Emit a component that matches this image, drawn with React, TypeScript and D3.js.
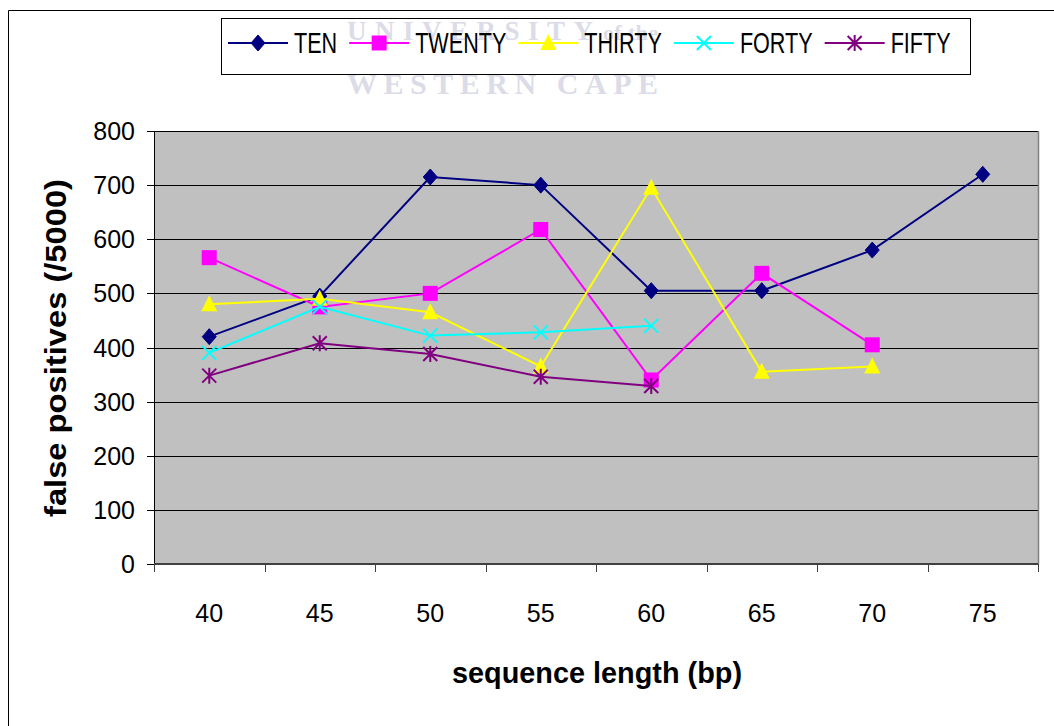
import React, { useEffect, useRef } from "react";
import * as d3 from "d3";

const categories = ["40", "45", "50", "55", "60", "65", "70", "75"];
const seriesNames = ["TEN", "TWENTY", "THIRTY", "FORTY", "FIFTY"];
const seriesColors = ["#000080", "#FF00FF", "#FFFF00", "#00FFFF", "#800080"];
const seriesMarkers = ["diamond", "square", "triangle", "x", "asterisk"];
const tenValues = [420, 495, 715, 700, 505, 505, 580, 720];
const twentyValues = [566, 475, 500, 618, 340, 537, 405];
const thirtyValues = [480, 490, 465, 365, 695, 355, 365];
const fortyValues = [390, 475, 422, 428, 440];
const fiftyValues = [348, 408, 388, 346, 329];
const yTicks = [0, 100, 200, 300, 400, 500, 600, 700, 800];
const xTitle = "sequence length (bp)";
const yTitle = "false positives (/5000)";
const watermarkTop = "UNIVERSITY";
const watermarkTopSmall = "of the";
const watermarkBottom = "WESTERN CAPE";

const allSeries = [tenValues, twentyValues, thirtyValues, fortyValues, fiftyValues];

export default function App() {
  const ref = useRef<SVGSVGElement>(null);

  useEffect(() => {
    const svg = d3.select(ref.current);
    svg.selectAll("*").remove();
    const W = 1054, H = 726;
    const m = { left: 154, top: 131, right: 1038, bottom: 564 };
    const font = "'Liberation Sans', Arial, sans-serif";

    // outer frame (only top & left visible)
    svg.append("rect").attr("x", 0).attr("y", 0).attr("width", W).attr("height", H).attr("fill", "#fff");
    svg.append("path").attr("d", `M8.5,${H + 2} V10.5 H${W + 2}`).attr("fill", "none").attr("stroke", "#000").attr("stroke-width", 1);

    const x = d3.scaleBand().domain(categories).range([m.left, m.right]);
    const y = d3.scaleLinear().domain([0, 800]).range([m.bottom, m.top]);

    // plot area
    svg.append("rect").attr("x", m.left).attr("y", m.top).attr("width", m.right - m.left).attr("height", m.bottom - m.top).attr("fill", "#C0C0C0");
    // gridlines
    svg.append("g").selectAll("line").data(yTicks.filter(t => t > 0)).join("line")
      .attr("x1", m.left).attr("x2", m.right)
      .attr("y1", d => Math.round(y(d)) + 0.5).attr("y2", d => Math.round(y(d)) + 0.5)
      .attr("stroke", "#000").attr("stroke-width", 1);
    // right border
    svg.append("line").attr("x1", m.right + 0.5).attr("x2", m.right + 0.5).attr("y1", m.top).attr("y2", m.bottom).attr("stroke", "#808080").attr("stroke-width", 1.5);

    // y axis line + ticks
    svg.append("line").attr("x1", m.left + 0.5).attr("x2", m.left + 0.5).attr("y1", m.top).attr("y2", m.bottom + 8).attr("stroke", "#000");
    svg.append("g").selectAll("line").data(yTicks).join("line")
      .attr("x1", m.left - 7).attr("x2", m.left)
      .attr("y1", d => Math.round(y(d)) + 0.5).attr("y2", d => Math.round(y(d)) + 0.5)
      .attr("stroke", "#000");
    svg.append("g").selectAll("text").data(yTicks).join("text")
      .attr("x", 135).attr("y", d => y(d) + 9)
      .attr("text-anchor", "end").attr("font-family", font).attr("font-size", 25).attr("fill", "#000")
      .text(d => d);

    // x axis
    svg.append("line").attr("x1", m.left).attr("x2", m.right).attr("y1", m.bottom).attr("y2", m.bottom).attr("stroke", "#404040").attr("stroke-width", 2);
    const bounds = categories.map(c => x(c)!).concat([m.right]);
    svg.append("g").selectAll("line").data(bounds).join("line")
      .attr("x1", d => Math.round(d) + 0.5).attr("x2", d => Math.round(d) + 0.5)
      .attr("y1", m.bottom).attr("y2", m.bottom + 8).attr("stroke", "#404040");
    svg.append("g").selectAll("text").data(categories).join("text")
      .attr("x", d => x(d)! + x.bandwidth() / 2).attr("y", 622)
      .attr("text-anchor", "middle").attr("font-family", font).attr("font-size", 25).attr("fill", "#000")
      .text(d => d);

    // titles
    svg.append("text").attr("x", 597).attr("y", 683).attr("text-anchor", "middle")
      .attr("font-family", font).attr("font-weight", "bold").attr("font-size", 29)
      .attr("textLength", 290).attr("lengthAdjust", "spacingAndGlyphs").text(xTitle);
    svg.append("text").attr("transform", "translate(66,348) rotate(-90)").attr("text-anchor", "middle")
      .attr("font-family", font).attr("font-weight", "bold").attr("font-size", 29)
      .attr("textLength", 338).attr("lengthAdjust", "spacingAndGlyphs").text(yTitle);

    const drawMarker = (g: any, type: string, cx: number, cy: number, color: string) => {
      if (type === "diamond") {
        g.append("path").attr("d", `M${cx},${cy - 8} L${cx + 7},${cy} L${cx},${cy + 8} L${cx - 7},${cy} Z`).attr("fill", color).attr("stroke", color);
      } else if (type === "square") {
        g.append("rect").attr("x", cx - 7.5).attr("y", cy - 7.5).attr("width", 15).attr("height", 15).attr("fill", color);
      } else if (type === "triangle") {
        g.append("path").attr("d", `M${cx},${cy - 9} L${cx + 8},${cy + 7} L${cx - 8},${cy + 7} Z`).attr("fill", color);
      } else if (type === "x") {
        g.append("path").attr("d", `M${cx - 7},${cy - 7} L${cx + 7},${cy + 7} M${cx + 7},${cy - 7} L${cx - 7},${cy + 7}`).attr("stroke", color).attr("stroke-width", 2);
      } else {
        g.append("path").attr("d", `M${cx - 7},${cy - 7} L${cx + 7},${cy + 7} M${cx + 7},${cy - 7} L${cx - 7},${cy + 7} M${cx},${cy - 8} L${cx},${cy + 8}`).attr("stroke", color).attr("stroke-width", 2);
      }
    };

    // series
    allSeries.forEach((vals, i) => {
      const g = svg.append("g");
      const color = seriesColors[i];
      const line = d3.line<number>().x((_, j) => x(categories[j])! + x.bandwidth() / 2).y(d => y(d));
      g.append("path").attr("d", line(vals)).attr("fill", "none").attr("stroke", color).attr("stroke-width", 2);
      vals.forEach((v, j) => drawMarker(g, seriesMarkers[i], x(categories[j])! + x.bandwidth() / 2, y(v), color));
    });

    // legend
    svg.append("rect").attr("x", 221.5).attr("y", 18.5).attr("width", 749).attr("height", 56).attr("fill", "#fff").attr("stroke", "#000");

    // watermark
    const wm = svg.append("g").attr("fill", "#DCDCE8").attr("font-family", "'Liberation Serif', 'DejaVu Serif', serif").attr("font-weight", "bold");
    wm.append("text").attr("x", 347).attr("y", 40).attr("font-size", 27).attr("textLength", 246).attr("lengthAdjust", "spacing").text(watermarkTop);
    wm.append("text").attr("x", 603).attr("y", 40).attr("font-size", 22).attr("textLength", 55).attr("lengthAdjust", "spacing").text(watermarkTopSmall);
    wm.append("text").attr("x", 347).attr("y", 94).attr("font-size", 30).attr("textLength", 311).attr("lengthAdjust", "spacing").text(watermarkBottom);

    const sx = 0.72;
    let lx = 228;
    seriesNames.forEach((name, i) => {
      const g = svg.append("g");
      const color = seriesColors[i];
      g.append("line").attr("x1", lx).attr("x2", lx + 60).attr("y1", 43).attr("y2", 43).attr("stroke", color).attr("stroke-width", 2);
      drawMarker(g, seriesMarkers[i], lx + 30, 43, color);
      const t = g.append("text").attr("x", 0).attr("y", 0)
        .attr("font-family", font).attr("font-size", 30).attr("fill", "#000")
        .attr("transform", `translate(${lx + 66},53) scale(${sx},1)`).text(name);
      const w = (t.node() as SVGTextElement).getComputedTextLength() * sx;
      lx = lx + 66 + w + 12;
    });
  }, []);

  return (
    <svg ref={ref} width={1054} height={726} style={{ position: "absolute", left: 0, top: 0 }} />
  );
}
